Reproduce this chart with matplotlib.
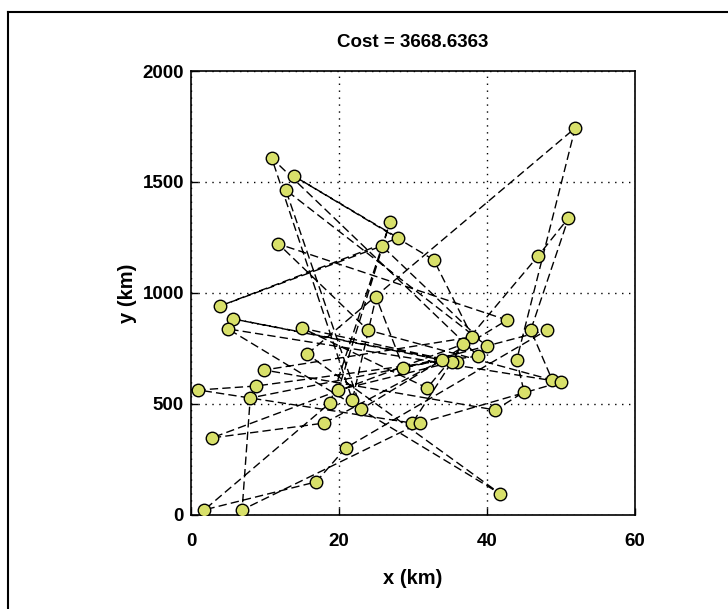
# Tour through the cities, drawn in MATLAB style

import matplotlib.pyplot as plt
from matplotlib.lines import Line2D

plt.rcParams['font.family'] = ['Liberation Sans', 'DejaVu Sans']

# City coordinates in tour order (km); the tour closes back on the first city
city_x = [15.7, 51.9, 44.0, 45.0, 41.1, 9.9, 38.0, 32.8, 13.9, 28.0,
          3.9, 25.8, 40.0, 12.8, 23.0, 42.7, 11.8, 23.9, 48.8, 45.9,
          51.0, 46.9, 31.9, 15.0, 35.9, 5.7, 35.3, 19.9, 26.9, 18.8,
          1.8, 16.9, 20.9, 48.1, 28.7, 25.0, 21.8, 10.9, 38.8, 8.8,
          1.0, 29.9, 36.8, 2.8, 18.0, 33.9, 8.0, 6.9, 30.9, 50.0,
          5.0, 41.8]
city_y = [725, 1743, 698, 554, 473, 653, 802, 1149, 1527, 1248,
          941, 1212, 761, 1464, 477, 878, 1221, 833, 608, 833,
          1338, 1167, 572, 842, 689, 883, 689, 563, 1320, 505,
          23, 149, 302, 833, 662, 982, 518, 1608, 716, 581,
          563, 414, 770, 347, 414, 698, 527, 23, 414, 599,
          838, 95]

cost = 3668.6363
x_ticks = [0, 20, 40, 60]
y_ticks = [0, 500, 1000, 1500, 2000]

fig = plt.figure(figsize=(7.28, 6.09), dpi=100)
ax = fig.add_axes([0.2624, 0.1544, 0.61, 0.729])

tour_x = city_x + city_x[:1]
tour_y = city_y + city_y[:1]
ax.plot(tour_x, tour_y, color='black', linewidth=1.0, linestyle=(0, (6, 3)), zorder=2)
ax.plot(city_x, city_y, linestyle='none', marker='o', markersize=9,
        markerfacecolor='#d8e06a', markeredgecolor='black', markeredgewidth=1.0, zorder=3)

ax.set_xlim(0, 60)
ax.set_ylim(0, 2000)
ax.set_xticks(x_ticks)
ax.set_yticks(y_ticks)
ax.tick_params(direction='in', length=5, width=1, labelsize=13.5)
ax.tick_params(axis='x', pad=13)
ax.tick_params(axis='y', pad=5)
for lab in ax.get_xticklabels() + ax.get_yticklabels():
    lab.set_fontweight('bold')
ax.grid(True, color='black', linestyle=(0, (1, 4)), linewidth=1.0)
for sp in ax.spines.values():
    sp.set_linewidth(1.2)

ax.set_xlabel('x (km)', fontsize=14.5, fontweight='bold', labelpad=14)
ax.set_ylabel('y (km)', fontsize=14.5, fontweight='bold', labelpad=4)
ax.set_title('Cost = {:.4f}'.format(cost), fontsize=13.5, fontweight='bold', pad=17)

# outer frame of the picture (top and left edges)
fig.add_artist(Line2D([8 / 728, 1.0], [1 - 12 / 609, 1 - 12 / 609], color='black', linewidth=1.5))
fig.add_artist(Line2D([8 / 728, 8 / 728], [0.0, 1 - 12 / 609], color='black', linewidth=1.5))

fig.savefig('out.png', dpi=100)
